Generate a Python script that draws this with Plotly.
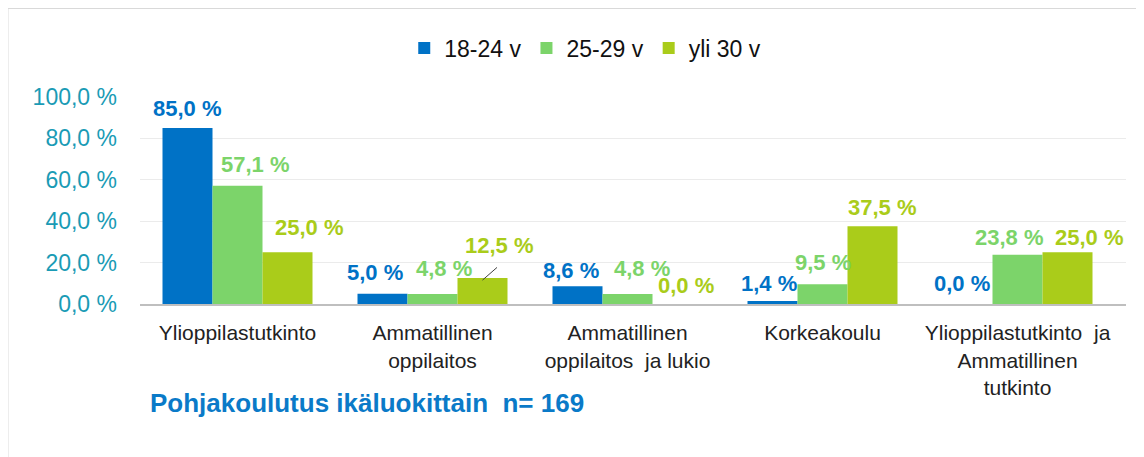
"""
Pohjakoulutus ikäluokittain - grouped bar chart.
"""
import plotly.graph_objects as go

# Data
categories = [
    "Ylioppilastutkinto",
    "Ammatillinen<br>oppilaitos",
    "Ammatillinen<br>oppilaitos  ja lukio",
    "Korkeakoulu",
    "Ylioppilastutkinto  ja<br>Ammatillinen<br>tutkinto",
]
series_names = ["18-24 v", "25-29 v", "yli 30 v"]
values_18_24 = [85.0, 5.0, 8.6, 1.4, 0.0]
values_25_29 = [57.1, 4.8, 4.8, 9.5, 23.8]
values_30 = [25.0, 12.5, 0.0, 37.5, 25.0]
y_ticks = [0, 20, 40, 60, 80, 100]
title_text = "Pohjakoulutus ikäluokittain  n= 169"

# Styling
FONT = "Liberation Sans, Arial, sans-serif"
colors = ["#0072C6", "#7CD46A", "#AACC1A"]
bar_offsets = [-50, 0, 50]  # pixel offset of each bar from category centre
# hand-placed label nudges (dx, dy) in pixels, like the manual Excel label positions
label_nudges = [
    [(0, 20), (-8, 21), (-7, 16), (-4, 18), (-6, 21)],
    [(18, 21), (11, 26), (14, 26), (0, 22), (-8, 17)],
    [(22, 25), (17, 33), (8, 19), (10, 19), (22, 15)],
]


def fmt(v):
    return f"{v:.1f} %".replace(".", ",")


fig = go.Figure()
all_values = [values_18_24, values_25_29, values_30]

for name, vals, color in zip(series_names, all_values, colors):
    fig.add_trace(
        go.Bar(
            x=categories,
            y=vals,
            name=name,
            marker=dict(color=color, line=dict(width=0)),
        )
    )

# Data labels
for s, (vals, color) in enumerate(zip(all_values, colors)):
    for i, (cat, v) in enumerate(zip(categories, vals)):
        dx, dy = label_nudges[s][i]
        fig.add_annotation(
            x=cat, y=v, xref="x", yref="y",
            xshift=bar_offsets[s] + dx, yshift=dy,
            yanchor="middle",
            text=fmt(v),
            showarrow=False,
            font=dict(family=FONT, size=22, color=color, weight="bold"),
        )

# leader line for the moved 12,5 % label
fig.add_annotation(
    x=categories[1], y=values_30[1], xref="x", yref="y",
    xshift=bar_offsets[2], yshift=-2,
    text="", showarrow=True, arrowhead=0, arrowwidth=1,
    arrowcolor="#404040", ax=16, ay=-14, standoff=0,
    font=dict(size=1),
)

# Title below the chart
fig.add_annotation(
    text=title_text,
    xref="paper", yref="paper",
    x=0.008, y=-0.478,
    xanchor="left", yanchor="middle",
    showarrow=False,
    font=dict(family=FONT, size=26, color="#0A7AC8", weight="bold"),
)

# Outer frame
fig.add_shape(
    type="rect", xref="paper", yref="paper",
    x0=-0.1344, x1=1.0256, y0=-0.8, y1=1.43,
    line=dict(color="#D9D9D9", width=2),
    layer="below",
)

fig.update_layout(
    width=1136,
    height=449,
    margin=dict(l=132, r=18, t=89, b=153),
    barmode="group",
    bargap=0.2308,
    bargroupgap=0,
    plot_bgcolor="white",
    paper_bgcolor="white",
    font=dict(family=FONT, color="#222222"),
    showlegend=True,
    legend=dict(
        orientation="h",
        x=0.268, y=1.237,
        xanchor="left", yanchor="middle",
        font=dict(family=FONT, size=23, color="#111111"),
        bgcolor="rgba(0,0,0,0)",
    ),
)

fig.update_xaxes(
    automargin=False,
    showgrid=False,
    showline=True,
    linecolor="#BFBFBF",
    linewidth=2,
    ticks="",
    tickfont=dict(family=FONT, size=21, color="#222222"),
    ticklabelstandoff=9,
)
fig.update_yaxes(
    automargin=False,
    range=[0, 100],
    tickvals=y_ticks,
    ticktext=[fmt(t) for t in y_ticks],
    showgrid=True,
    gridcolor="#EBEBEB",
    gridwidth=1,
    zeroline=False,
    showline=False,
    ticks="",
    tickfont=dict(family=FONT, size=23, color="#1A9BB5"),
    ticklabelstandoff=22,
)

fig.write_html("out.html")
